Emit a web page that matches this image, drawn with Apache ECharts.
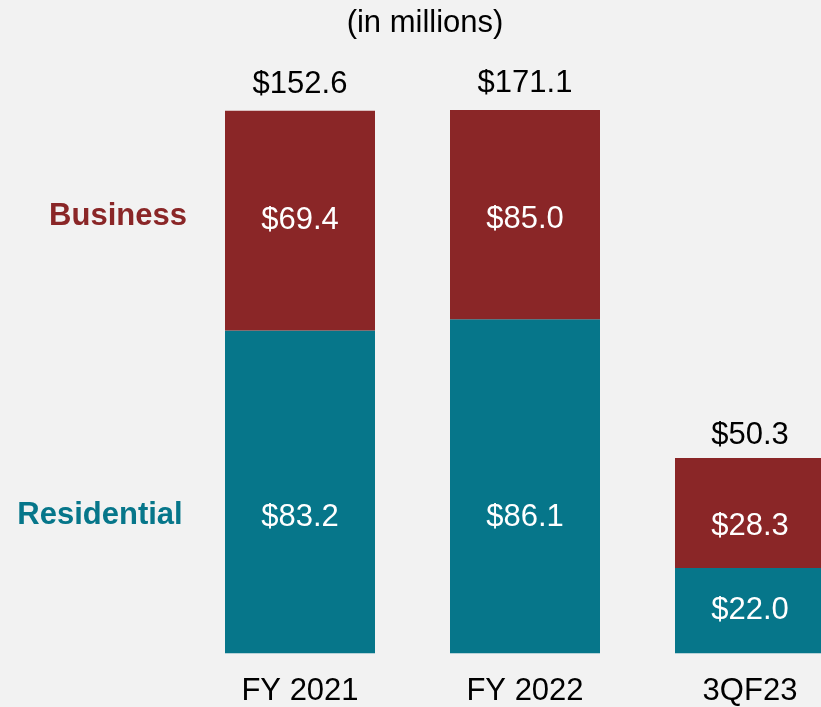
<!DOCTYPE html>
<html>
<head>
<meta charset="utf-8">
<style>
html,body{margin:0;padding:0;background:#f2f2f2;}
#chart{width:821px;height:707px;}
</style>
<script src="https://cdn.jsdelivr.net/npm/echarts@6/dist/echarts.min.js"></script>
</head>
<body>
<div id="chart"></div>
<script>
var categories = ['FY 2021', 'FY 2022', '3QF23'];
var residential = [83.2, 86.1, 22.0];
var business = [69.4, 85.0, 28.3];
var totals = [152.6, 171.1, 50.3];

var RED = '#8a2627';
var TEAL = '#06768a';
var FONT = '"Liberation Sans", Arial, sans-serif';

// label offsets (style only)
var resOffsets = [[0, 26], [0, 31], [0, 0]];
var busOffsets = [[0, 0], [0, 5], [0, 13]];
var totalDistance = [11, 11, 7];

var chart = echarts.init(document.getElementById('chart'));
chart.setOption({
  backgroundColor: '#f2f2f2',
  animation: false,
  grid: { left: 187.5, width: 675, top: 110, bottom: 53.7, containLabel: false, outerBoundsMode: 'none' },
  xAxis: {
    type: 'category',
    data: categories,
    axisLine: { show: false },
    axisTick: { show: false },
    axisLabel: { color: '#000', fontSize: 31, fontFamily: FONT, margin: 23 }
  },
  yAxis: {
    type: 'value',
    min: 0,
    max: 171.1,
    show: false,
    splitLine: { show: false },
    breaks: [
      { start: 100, end: 112.8, gap: 0 },
      { start: 152.7, end: 171.0, gap: 0 }
    ],
    breakArea: { show: false }
  },
  graphic: [
    { type: 'text', x: 425, y: 23, style: { text: '(in millions)', fill: '#000', font: '31px ' + FONT, textAlign: 'center', textVerticalAlign: 'middle' } },
    { type: 'text', x: 118, y: 216, style: { text: 'Business', fill: RED, font: 'bold 31px ' + FONT, textAlign: 'center', textVerticalAlign: 'middle' } },
    { type: 'text', x: 100, y: 515, style: { text: 'Residential', fill: TEAL, font: 'bold 31px ' + FONT, textAlign: 'center', textVerticalAlign: 'middle' } }
  ],
  series: [
    {
      name: 'Residential', type: 'bar', stack: 'a', barWidth: 150,
      itemStyle: { color: TEAL },
      data: residential.map(function (v, i) {
        return { value: v, label: { offset: resOffsets[i] } };
      }),
      label: { show: true, position: 'inside', color: '#fff', fontSize: 31, fontFamily: FONT,
        formatter: function (p) { return '$' + p.value.toFixed(1); } }
    },
    {
      name: 'Business', type: 'bar', stack: 'a', barWidth: 150,
      itemStyle: { color: RED },
      data: business.map(function (v, i) {
        return { value: v, label: { offset: busOffsets[i] } };
      }),
      label: { show: true, position: 'inside', color: '#fff', fontSize: 31, fontFamily: FONT,
        formatter: function (p) { return '$' + p.value.toFixed(1); } }
    },
    {
      name: 'Total', type: 'scatter', symbolSize: 0, silent: true,
      itemStyle: { opacity: 1 },
      data: totals.map(function (v, i) {
        return { value: v, label: { distance: totalDistance[i] } };
      }),
      label: { show: true, position: 'top', color: '#000', fontSize: 31, fontFamily: FONT,
        formatter: function (p) { return '$' + p.value.toFixed(1); } }
    }
  ]
});
</script>
</body>
</html>
